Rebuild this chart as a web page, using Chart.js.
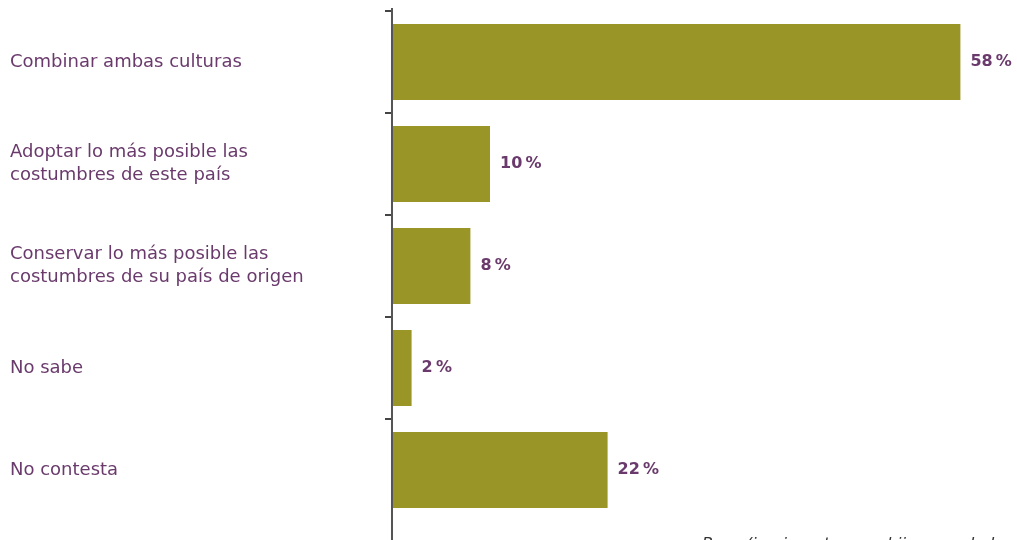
<!DOCTYPE html>
<html lang="es">
<head>
    <meta charset="UTF-8">
    <title>Combinar culturas</title>
    <script src="https://cdn.jsdelivr.net/npm/chart.js"></script>
    <style>
        html, body { margin: 0; padding: 0; background: #fff; }
        #wrap { width: 1017px; height: 540px; position: relative; }
    </style>
</head>
<body>
    <div id="wrap"><canvas id="chart"></canvas></div>

    <script>
        const categories = [
            "Combinar ambas culturas",
            ["Adoptar lo más posible las", "costumbres de este país"],
            ["Conservar lo más posible las", "costumbres de su país de origen"],
            "No sabe",
            "No contesta"
        ];
        const values = [58, 10, 8, 2, 22];
        const footnote = "Base (inmigrantes con hijos en edad escolar)";

        const purple = "#6a3a6c";
        const olive = "#9a9527";

        // value labels, axis line and the cut-off footnote
        const extras = {
            id: "extras",
            afterDatasetsDraw(chart) {
                const ctx = chart.ctx;
                const meta = chart.getDatasetMeta(0);
                ctx.save();
                ctx.fillStyle = purple;
                ctx.font = "bold 16px 'DejaVu Sans'";
                ctx.textBaseline = "middle";
                ctx.textAlign = "left";
                meta.data.forEach((bar, i) => {
                    ctx.fillText(values[i] + "\u2009%", bar.x + 10, bar.y);
                });

                const x = chart.chartArea.left;
                ctx.strokeStyle = "#555";
                ctx.lineWidth = 2;
                ctx.beginPath();
                ctx.moveTo(x, 8);
                ctx.lineTo(x, chart.height);
                ctx.stroke();

                ctx.fillStyle = "#333";
                ctx.font = "italic 16px 'DejaVu Sans'";
                ctx.textAlign = "left";
                ctx.textBaseline = "top";
                ctx.fillText(footnote, 702, 537);
                ctx.restore();
            }
        };

        new Chart(document.getElementById("chart"), {
            type: "bar",
            data: {
                labels: categories,
                datasets: [{
                    data: values,
                    backgroundColor: olive,
                    borderWidth: 0,
                    categoryPercentage: 1,
                    barPercentage: 0.745
                }]
            },
            options: {
                indexAxis: "y",
                responsive: true,
                maintainAspectRatio: false,
                animation: false,
                layout: { padding: { left: 10, right: 37, top: 11, bottom: 19 } },
                plugins: {
                    legend: { display: false },
                    tooltip: { enabled: false }
                },
                scales: {
                    x: {
                        display: false,
                        min: 0,
                        max: 60
                    },
                    y: {
                        offset: true,
                        afterFit(scale) {
                            scale.width = 382;
                            scale.paddingTop = 0;
                            scale.paddingBottom = 0;
                        },
                        border: { display: false },
                        grid: {
                            offset: true,
                            drawOnChartArea: false,
                            tickLength: 7,
                            lineWidth: 2,
                            color: c => c.index < 5 ? "#444" : "rgba(0,0,0,0)"
                        },
                        ticks: {
                            crossAlign: "far",
                            color: purple,
                            font: { family: "'DejaVu Sans'", size: 18, lineHeight: 1.28 }
                        }
                    }
                }
            },
            plugins: [extras]
        });
    </script>
</body>
</html>
